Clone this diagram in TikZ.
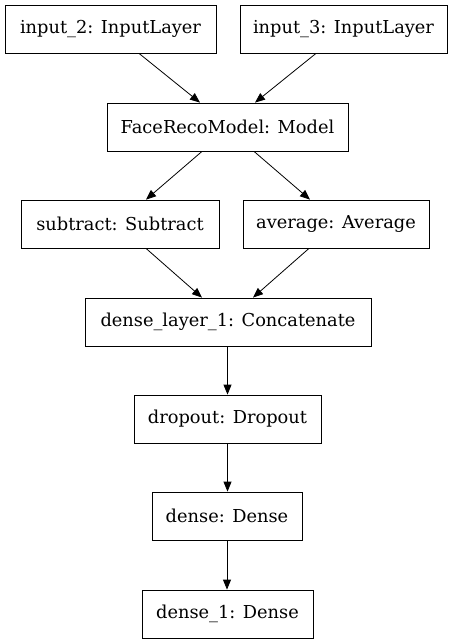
\documentclass[tikz,border=0pt]{standalone}
\usepackage{fontspec}
\setmainfont{DejaVu Serif}
\usetikzlibrary{arrows.meta}

\begin{document}
\begin{tikzpicture}[x=1pt,y=-1pt,
  layer/.style={draw,black,line width=0.8pt,rectangle,inner sep=0pt,minimum height=48pt,font=\fontsize{17.8}{21}\selectfont},
  edge/.style={line width=0.8pt,-{Triangle[length=\l, width=\w]}}]
\def\l{10pt}
\def\w{8pt}
\useasboundingbox (0,0) rectangle (456,644);

\node [layer, minimum width=211pt, name=in2]   at (110.5,29) {input\_2: InputLayer};
\node [layer, minimum width=207pt, name=in3]   at (343.5,29) {input\_3: InputLayer};
\node [layer, minimum width=241pt, name=face]  at (227.5,127) {FaceRecoModel: Model};
\node [layer, minimum width=198pt, name=sub]   at (120,224) {subtract: Subtract};
\node [layer, minimum width=186pt, name=avg]   at (336,224) {average: Average};
\node [layer, minimum width=286pt, name=cat]   at (228,322) {dense\_layer\_1: Concatenate};
\node [layer, minimum width=187pt, name=drop]  at (227.5,419) {dropout: Dropout};
\node [layer, minimum width=150pt, name=dns]   at (227,516) {dense: Dense};
\node [layer, minimum width=171pt, name=dns1]  at (227.5,614) {dense\_1: Dense};

\draw [edge] ([xshift=28.5pt]in2.south) to ([xshift=-27.5pt]face.north);
\draw [edge] ([xshift=-27.5pt]in3.south) to ([xshift=27.5pt]face.north);
\draw [edge] ([xshift=-25.5pt]face.south) to ([xshift=26pt]sub.north);
\draw [edge] ([xshift=26.5pt]face.south) to ([xshift=-26pt]avg.north);
\draw [edge] ([xshift=26pt]sub.south) to ([xshift=-26pt]cat.north);
\draw [edge] ([xshift=-27pt]avg.south) to ([xshift=25pt]cat.north);
\draw [edge] (cat.south -| drop.north) to (drop.north);
\draw [edge] (drop.south) to (drop.south |- dns.north);
\draw [edge] (dns.south) to (dns.south |- dns1.north);
\end{tikzpicture}
\end{document}
